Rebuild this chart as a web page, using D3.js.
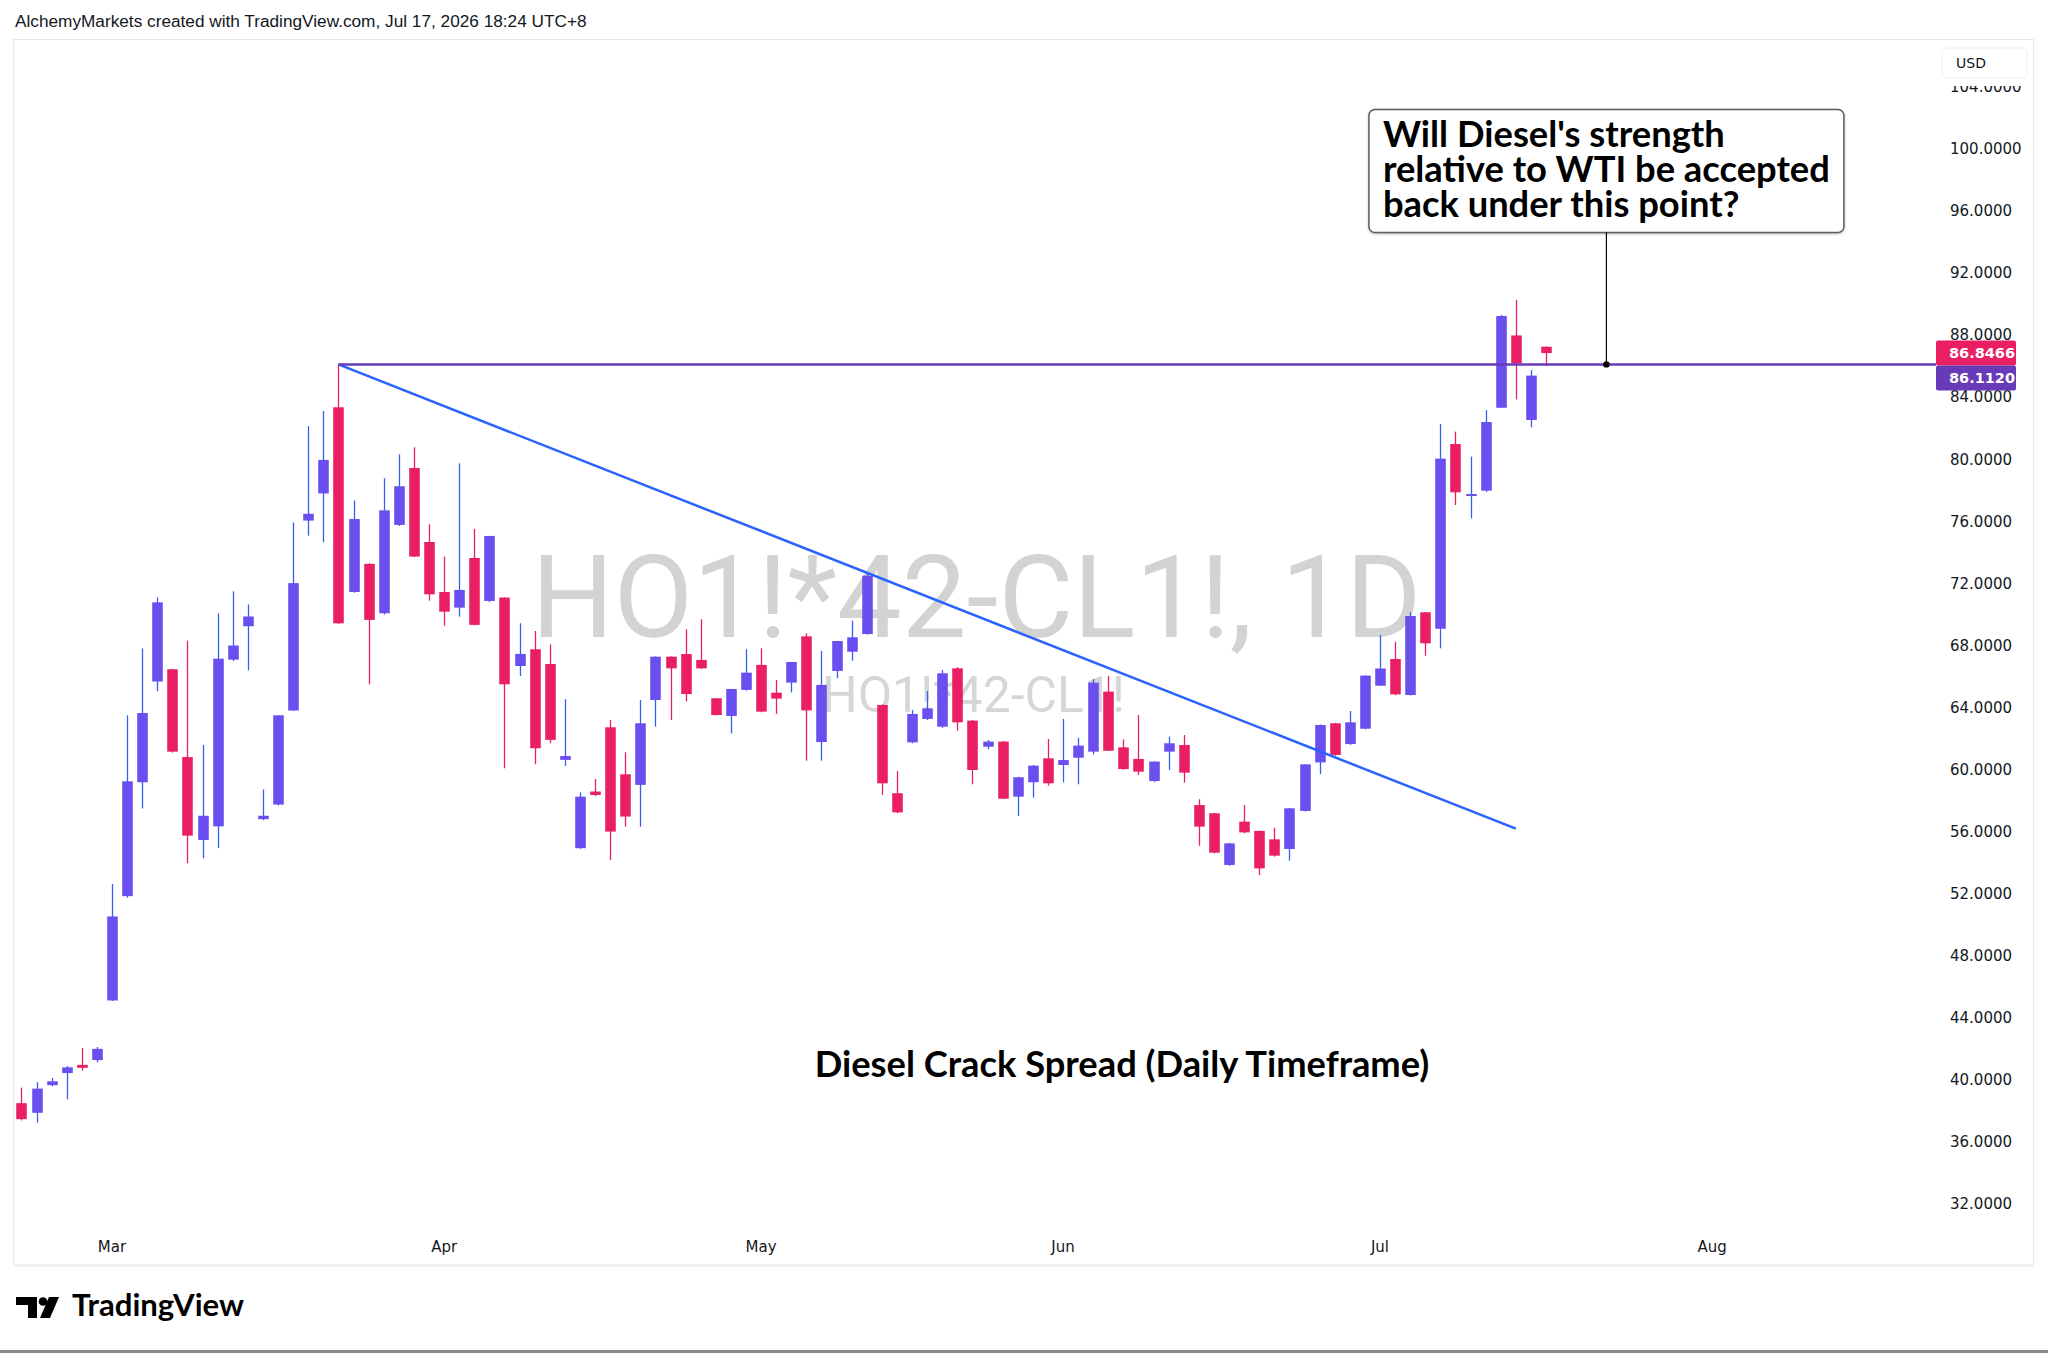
<!DOCTYPE html>
<html lang="en">
<head>
<meta charset="utf-8">
<title>Diesel Crack Spread (Daily Timeframe)</title>
<script src="https://d3js.org/d3.v7.min.js"></script>
<style>
body {
    margin: 0;
    background: #ffffff;
}
svg {
    display: block;
    font-family: "Liberation Sans", Arial, sans-serif;
}
.priceLabel, .monthLabel {
    font-family: "DejaVu Sans", sans-serif;
    font-size: 15px;
    fill: #131722;
}
.note {
    font-family: Lato, "Open Sans", sans-serif;
    font-weight: 700;
    fill: #000000;
}
</style>
</head>
<body>
<div id="canvas"></div>
<script>
// HO1!*42-CL1! daily bars (Feb 20 .. Jul 17 2026)
var openVals = [38.51, 37.89, 39.67, 40.45, 40.98, 41.29,
    45.13, 51.85, 59.19, 65.68, 66.47, 60.81, 55.47, 56.35, 67.09, 69.24,
    56.81, 57.75, 63.81, 76.05, 77.80, 83.35, 71.45, 73.26, 70.08, 75.77,
    79.44, 74.67, 71.45, 70.44, 73.64, 70.87, 71.09, 66.68, 67.76, 66.81,
    60.63, 54.94, 58.59, 62.73, 59.70, 59.02, 64.49, 67.28, 67.45, 67.07,
    64.60, 63.46, 65.14, 66.75, 64.96, 65.61, 68.59, 61.78, 66.36, 67.60,
    68.74, 64.17, 58.48, 61.76, 63.27, 62.77, 66.53, 63.16, 61.48, 61.81,
    58.26, 59.19, 60.73, 60.30, 60.77, 61.16, 65.03, 61.44, 60.69, 59.27,
    61.16, 61.59, 57.72, 57.19, 53.86, 56.65, 56.05, 55.51, 54.89, 57.34,
    60.47, 62.99, 61.65, 62.64, 65.41, 67.13, 64.81, 70.14, 69.08, 80.98,
    77.63, 77.98, 83.32, 87.98, 82.53, 87.25];
var highVals = [39.51, 39.86, 40.14, 40.90, 42.07, 42.13,
    52.63, 63.50, 67.81, 71.09, 66.50, 68.31, 61.59, 70.06, 71.49, 70.65,
    58.72, 63.50, 75.93, 82.14, 83.11, 86.11, 77.35, 73.30, 78.78, 80.32,
    80.77, 75.81, 73.73, 79.74, 75.51, 75.06, 71.10, 69.43, 68.94, 68.08,
    64.54, 58.54, 59.40, 63.20, 61.12, 64.49, 67.30, 67.30, 69.05, 69.69,
    64.62, 65.20, 67.76, 67.82, 65.78, 66.94, 68.79, 67.65, 68.30, 69.60,
    72.60, 64.20, 59.92, 63.85, 65.07, 66.42, 66.60, 63.20, 61.91, 61.85,
    59.55, 60.30, 61.98, 63.27, 62.06, 65.84, 66.04, 61.95, 63.52, 60.55,
    62.13, 62.23, 58.09, 57.22, 55.28, 57.72, 56.08, 56.26, 57.53, 60.36,
    62.90, 63.02, 63.78, 66.08, 68.68, 68.25, 70.14, 70.16, 82.27, 81.78,
    80.17, 83.17, 89.30, 90.26, 85.75, 87.27];
var lowVals = [37.40, 37.26, 39.60, 38.76, 40.61, 41.14,
    45.10, 51.75, 57.50, 65.06, 61.10, 53.97, 54.29, 54.94, 67.00, 66.40,
    56.75, 57.70, 63.80, 75.08, 74.65, 69.40, 71.40, 65.50, 70.00, 75.70,
    73.70, 70.89, 69.28, 69.86, 69.30, 70.80, 60.09, 66.04, 60.35, 61.70,
    60.24, 54.90, 58.30, 54.18, 56.33, 56.33, 62.77, 63.20, 64.39, 66.50,
    63.50, 62.34, 65.10, 63.70, 63.59, 64.98, 60.58, 60.58, 65.89, 67.02,
    68.70, 58.37, 57.20, 61.70, 63.20, 62.70, 62.51, 59.06, 61.33, 58.10,
    57.02, 58.20, 58.97, 59.18, 59.06, 60.99, 61.20, 60.00, 59.66, 59.20,
    59.98, 59.16, 55.10, 54.60, 53.80, 55.90, 53.21, 54.40, 54.14, 57.30,
    59.72, 60.90, 61.60, 62.60, 65.40, 64.80, 64.78, 67.34, 67.82, 77.05,
    76.19, 77.90, 83.30, 83.86, 82.06, 86.01];
var closeVals = [37.48, 39.45, 39.92, 40.82, 40.79, 42.01,
    50.54, 59.25, 63.65, 70.78, 61.16, 55.75, 57.03, 67.15, 68.00, 69.87,
    57.03, 63.50, 72.02, 76.49, 79.96, 69.43, 76.15, 69.65, 76.71, 78.26,
    73.73, 71.30, 70.18, 71.58, 69.33, 75.06, 65.50, 67.46, 61.38, 61.92,
    60.88, 58.26, 58.37, 56.01, 56.98, 62.99, 67.28, 66.53, 64.87, 66.53,
    63.52, 65.20, 66.25, 63.74, 64.58, 66.94, 63.82, 65.46, 68.29, 68.53,
    72.50, 59.12, 57.25, 63.59, 63.95, 66.21, 63.05, 59.98, 61.81, 58.13,
    59.51, 60.26, 59.12, 60.62, 61.55, 65.61, 61.22, 60.04, 59.87, 60.52,
    61.70, 59.81, 56.33, 54.65, 55.25, 55.96, 53.64, 54.46, 57.51, 60.34,
    62.88, 60.95, 63.05, 66.06, 66.52, 64.85, 69.90, 68.14, 80.04, 77.87,
    77.76, 82.40, 89.23, 86.18, 85.39, 86.8466];

var firstDay = "2026-02-20";
var holidays = ["2026-04-03", "2026-05-25", "2026-06-19", "2026-07-03"];
var monthLabels = ["Mar", "Apr", "May", "Jun", "Jul", "Aug"];
var monthKeys = ["2026-03", "2026-04", "2026-05", "2026-06", "2026-07", "2026-08"];
var priceTicks = [32, 36, 40, 44, 48, 52, 56, 60, 64, 68, 72, 76, 80, 84, 88, 92, 96, 100, 104];

// drawings
var resistanceLevel = 86.1120;
var resistanceFrom = "2026-03-23";
var trendFrom = {date: "2026-03-23", value: 86.112};
var trendTo = {date: "2026-07-15", value: 56.2};
var calloutDate = "2026-07-23";
var calloutLines = ["Will Diesel's strength", "relative to WTI be accepted", "back under this point?"];
var chartTitle = "Diesel Crack Spread (Daily Timeframe)";
var symbolText = "HO1!*42-CL1!, 1D";
var symbolSub = "HO1!*42-CL1!";
var headerText = "AlchemyMarkets created with TradingView.com, Jul 17, 2026 18:24 UTC+8";

var width = 2048;
var height = 1353;
var plot = {left: 13, right: 1940, top: 39, bottom: 1232};
var frameRight = 2033, frameBottom = 1264;

var upBody = "#6a4ef0", upWick = "#3060f6";
var downBody = "#e91e63", downWick = "#e91e63";

// trading calendar (weekdays minus exchange holidays)
var parseDay = d3.utcParse("%Y-%m-%d");
var fmtDay = d3.utcFormat("%Y-%m-%d");
var days = [];
var cur = parseDay(firstDay);
while (days.length < 130) {
    var wd = cur.getUTCDay();
    if (wd !== 0 && wd !== 6 && holidays.indexOf(fmtDay(cur)) < 0) days.push(fmtDay(cur));
    cur = d3.utcDay.offset(cur, 1);
}
function dayIndex(s) { return days.indexOf(s); }

var bars = openVals.map(function(o, i) {
    return {i: i, date: days[i], open: o, high: highVals[i], low: lowVals[i], close: closeVals[i]};
});

var svg = d3.select("#canvas")
    .append("svg")
    .attr("width", width)
    .attr("height", height);

svg.append("rect").attr("width", width).attr("height", height).attr("fill", "#ffffff");

var x = d3.scaleLinear()
    .domain([-0.56, 127.1])
    .range([plot.left, plot.right]);

var y = d3.scaleLinear()
    .domain([30.21, 107.08])
    .range([plot.bottom, plot.top]);

function fitText(sel, target) {
    var w = sel.node().getComputedTextLength();
    var fs = parseFloat(sel.style("font-size"));
    sel.style("font-size", (fs * target / w) + "px");
}

// header line
var header = svg.append("text")
    .attr("x", 15)
    .attr("y", 27)
    .style("font-size", "16px")
    .style("fill", "#131722")
    .text(headerText);
fitText(header, 572);

// chart frame
svg.append("rect")
    .attr("x", plot.left + 0.5)
    .attr("y", plot.top + 0.5)
    .attr("width", frameRight - plot.left)
    .attr("height", frameBottom - plot.top)
    .attr("fill", "none")
    .attr("stroke", "#e6e8ee")
    .attr("stroke-width", 1);
svg.append("line")
    .attr("x1", plot.left).attr("x2", frameRight + 1)
    .attr("y1", frameBottom + 1.5).attr("y2", frameBottom + 1.5)
    .attr("stroke", "#eef0f3").attr("stroke-width", 3);

// watermarks
var wmX = (plot.left + plot.right) / 2;
var wm = svg.append("text")
    .attr("x", wmX)
    .attr("y", 637)
    .attr("text-anchor", "middle")
    .style("font-family", "Roboto, sans-serif")
    .style("font-size", "117px")
    .style("fill", "#d3d3d3")
    .text(symbolText);
fitText(wm, 890);
var wm2 = svg.append("text")
    .attr("x", wmX - 3)
    .attr("y", 712)
    .attr("text-anchor", "middle")
    .style("font-family", "Roboto, sans-serif")
    .style("font-size", "54px")
    .style("fill", "#d6d6d6")
    .text(symbolSub);
fitText(wm2, 303);

// candles
var step = x(1) - x(0);
var bodyW = step * 0.7;
var candles = svg.append("g").attr("class", "candles")
    .selectAll("g")
    .data(bars)
    .enter()
    .append("g");

candles.append("line")
    .attr("x1", function(d) { return Math.round(x(d.i)) + 0.5; })
    .attr("x2", function(d) { return Math.round(x(d.i)) + 0.5; })
    .attr("y1", function(d) { return y(d.high); })
    .attr("y2", function(d) { return y(d.low); })
    .attr("stroke", function(d) { return d.close >= d.open ? upWick : downWick; })
    .attr("stroke-width", 1.3);

candles.append("rect")
    .attr("x", function(d) { return Math.round(x(d.i)) + 0.5 - bodyW / 2; })
    .attr("y", function(d) { return y(Math.max(d.open, d.close)); })
    .attr("width", bodyW)
    .attr("height", function(d) { return Math.max(1.5, Math.abs(y(d.open) - y(d.close))); })
    .attr("fill", function(d) { return d.close >= d.open ? upBody : downBody; });

// trend line
svg.append("line")
    .attr("x1", x(dayIndex(trendFrom.date)))
    .attr("y1", y(trendFrom.value))
    .attr("x2", x(dayIndex(trendTo.date)))
    .attr("y2", y(trendTo.value))
    .attr("stroke", "#2962ff")
    .attr("stroke-width", 2.5);

// horizontal level
svg.append("line")
    .attr("x1", x(dayIndex(resistanceFrom)))
    .attr("x2", plot.right - 4)
    .attr("y1", y(resistanceLevel))
    .attr("y2", y(resistanceLevel))
    .attr("stroke", "#673ab7")
    .attr("stroke-width", 2.5);

// callout (one text block, one tspan per line)
var ax = x(dayIndex(calloutDate));
var ay = y(resistanceLevel);
var boxBottom = ay - 132;
var boxTop = boxBottom - 123;
var note = svg.append("g");
var noteRect = note.append("rect");
var noteText = note.append("text")
    .attr("class", "note")
    .attr("y", boxTop + 38)
    .style("font-size", "31px");
var spans = noteText.selectAll("tspan")
    .data(calloutLines)
    .enter()
    .append("tspan")
    .attr("dy", function(d, i) { return i === 0 ? 0 : 35; })
    .text(function(d) { return d; });
var widest = d3.max(spans.nodes(), function(n) { return n.getComputedTextLength(); });
noteText.style("font-size", (31 * 447 / widest) + "px");
widest = 447;
var boxLeft = ax - (widest + 28) / 2;
spans.attr("x", boxLeft + 14);
noteRect
    .attr("x", boxLeft)
    .attr("y", boxTop)
    .attr("width", widest + 28)
    .attr("height", boxBottom - boxTop)
    .attr("rx", 6)
    .attr("fill", "#ffffff")
    .attr("stroke", "#5d5d5d")
    .attr("stroke-width", 1.5)
    .style("filter", "drop-shadow(0px 1px 1px rgba(0,0,0,0.25))");
svg.append("line")
    .attr("x1", ax).attr("x2", ax)
    .attr("y1", boxBottom).attr("y2", ay)
    .attr("stroke", "#000000")
    .attr("stroke-width", 1.2);
svg.append("circle")
    .attr("cx", ax).attr("cy", ay).attr("r", 3.2)
    .attr("fill", "#000000");

// title
var title = svg.append("text")
    .attr("class", "note")
    .attr("x", 1122)
    .attr("y", 1077)
    .attr("text-anchor", "middle")
    .style("font-size", "34px")
    .text(chartTitle);
fitText(title, 615);

// price scale
svg.append("g")
    .selectAll("text")
    .data(priceTicks)
    .enter()
    .append("text")
    .attr("class", "priceLabel")
    .attr("x", 1950)
    .attr("y", function(d) { return y(d); })
    .attr("dy", "0.35em")
    .text(function(d) { return d3.format(".4f")(d); });

// USD badge (it hides the top of the highest label, as in the app)
svg.append("rect")
    .attr("x", 1941).attr("y", 41)
    .attr("width", 90).attr("height", 45)
    .attr("fill", "#ffffff");
svg.append("rect")
    .attr("x", 1942).attr("y", 48)
    .attr("width", 85).attr("height", 30)
    .attr("rx", 5)
    .attr("fill", "#ffffff")
    .attr("stroke", "#eceef2");
svg.append("text")
    .attr("x", 1956).attr("y", 63)
    .attr("dy", "0.35em")
    .style("font-family", "DejaVu Sans, sans-serif")
    .style("font-size", "14px")
    .style("fill", "#131722")
    .text("USD");

// last price + level badges
var lastPrice = closeVals[closeVals.length - 1];
var lastTop = y(lastPrice) - 12.5;
var levelTop = Math.max(y(resistanceLevel) - 12.5, lastTop + 25);
[{v: lastPrice, top: lastTop, c: "#e91e63"}, {v: resistanceLevel, top: levelTop, c: "#673ab7"}]
    .forEach(function(b) {
        svg.append("rect")
            .attr("x", 1936).attr("y", b.top)
            .attr("width", 80).attr("height", 25)
            .attr("rx", 2)
            .attr("fill", b.c);
        svg.append("text")
            .attr("x", 1949).attr("y", b.top + 12.5)
            .attr("dy", "0.35em")
            .style("font-family", "DejaVu Sans, sans-serif")
            .style("font-size", "14.5px")
            .style("font-weight", "bold")
            .style("fill", "#ffffff")
            .text(d3.format(".4f")(b.v));
    });

// month labels on the time scale
var monthTicks = monthKeys.map(function(k, i) {
    var idx = days.findIndex(function(s) { return s.slice(0, 7) === k; });
    return {label: monthLabels[i], idx: idx};
});
svg.append("g")
    .selectAll("text")
    .data(monthTicks)
    .enter()
    .append("text")
    .attr("class", "monthLabel")
    .attr("x", function(d) { return x(d.idx); })
    .attr("y", 1247)
    .attr("dy", "0.35em")
    .attr("text-anchor", "middle")
    .text(function(d) { return d.label; });

// TradingView footer logo
var logo = svg.append("g").attr("fill", "#000000");
logo.append("path").attr("d", "M16,1297 H37 V1318 H28 V1305 H16 Z");
logo.append("circle").attr("cx", 43).attr("cy", 1301.5).attr("r", 4.3);
logo.append("path").attr("d", "M49,1297 H59 L50,1318 H40 Z");
var tv = svg.append("text")
    .attr("x", 72).attr("y", 1316)
    .style("font-family", "Lato, sans-serif")
    .style("font-weight", "700")
    .style("font-size", "27px")
    .style("fill", "#000000")
    .text("TradingView");
fitText(tv, 172);

svg.append("line")
    .attr("x1", 0).attr("x2", width)
    .attr("y1", 1351.5).attr("y2", 1351.5)
    .attr("stroke", "#8a8a8a").attr("stroke-width", 3);
</script>
</body>
</html>
